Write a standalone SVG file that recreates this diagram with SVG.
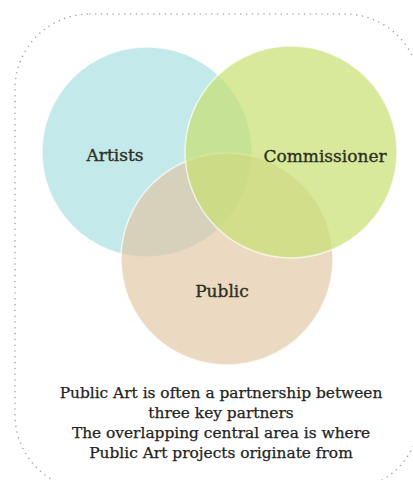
<svg xmlns="http://www.w3.org/2000/svg" width="413" height="480" viewBox="0 0 413 480">
  <style>
    .frame { fill: none; stroke: #9ea4b4; stroke-width: 1.6; stroke-linecap: round; stroke-dasharray: 0 5.8; }
    .set { stroke: #ffffff; stroke-opacity: 0.7; stroke-width: 1.5; }
    .label { font-family: "DejaVu Serif", "Liberation Serif", serif; font-size: 17px; fill: #2e2e22; stroke: #2e2e22; stroke-width: 0.35; text-anchor: middle; }
    .caption { font-family: "DejaVu Serif", "Liberation Serif", serif; font-size: 15.4px; fill: #222222; stroke: #222222; stroke-width: 0.25; text-anchor: middle; }
  </style>

  <rect width="413" height="480" fill="#ffffff"/>

  <!-- dotted rounded frame, running past the right and bottom edges -->
  <rect class="frame" x="15" y="14" width="405" height="476" rx="75" ry="75"/>

  <!-- three overlapping sets -->
  <g id="artists">
    <circle class="set" cx="147" cy="152" r="105" fill="#c3e9ea"/>
    <text class="label" x="115" y="161">Artists</text>
  </g>
  <g id="public">
    <circle class="set" cx="227" cy="259" r="106" fill="#e0c4a0" fill-opacity="0.65"/>
  </g>
  <g id="commissioner">
    <circle class="set" cx="291" cy="152" r="106" fill="#c8e070" fill-opacity="0.7"/>
    <text class="label" x="325" y="162">Commissioner</text>
  </g>
  <text class="label" x="222" y="297">Public</text>

  <g id="caption">
    <text class="caption" x="221" y="398">Public Art is often a partnership between</text>
    <text class="caption" x="221" y="418">three key partners</text>
    <text class="caption" x="221" y="438">The overlapping central area is where</text>
    <text class="caption" x="221" y="458">Public Art projects originate from</text>
  </g>
</svg>
